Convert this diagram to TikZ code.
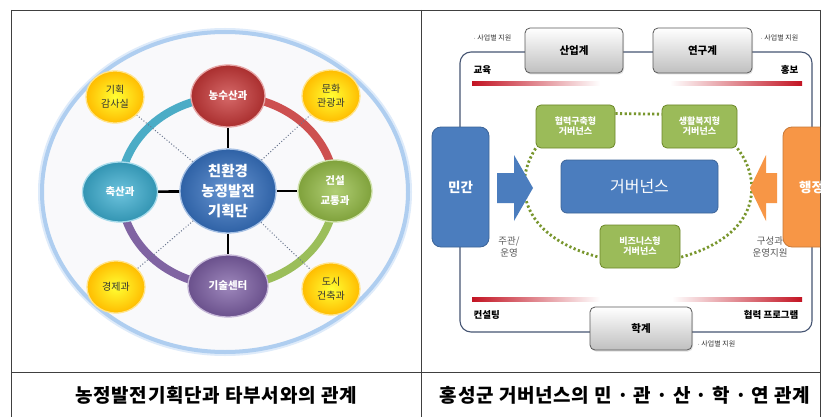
\documentclass[tikz,border=0pt]{standalone}
\usepackage{fontspec}
\setmainfont{Noto Sans CJK KR}
\usetikzlibrary{shapes.geometric,shadows}
\pgfdeclarelayer{back}\pgfdeclarelayer{bg}
\pgfsetlayers{back,bg,main}
\definecolor{cRed}{RGB}{200,55,55}
\definecolor{cCyan}{RGB}{60,175,210}
\definecolor{cGreen}{RGB}{150,190,70}
\definecolor{cPurple}{RGB}{125,95,165}
\definecolor{cBlue}{RGB}{55,115,195}
\definecolor{cYellow}{RGB}{255,195,0}
\definecolor{ringCyan}{RGB}{75,172,198}
\definecolor{ringRed}{RGB}{205,80,80}
\definecolor{ringGreen}{RGB}{155,190,90}
\definecolor{ringPurple}{RGB}{128,100,162}
\definecolor{govBlue}{RGB}{75,125,190}
\definecolor{boxGreen}{RGB}{155,187,89}
\definecolor{dotGreen}{RGB}{120,150,45}
\definecolor{orng}{RGB}{247,150,70}
\definecolor{frameC}{RGB}{70,85,115}
\definecolor{darkRed}{RGB}{195,20,35}
\definecolor{haloOut}{RGB}{222,235,250}
\definecolor{haloIn}{RGB}{175,206,240}
\definecolor{bgFill}{RGB}{249,249,251}
\tikzset{
  orb/.style={ellipse, draw=#1!45!white, line width=1.3pt, inner color=#1!75!white, outer color=#1!85!black,
    text=white, font=\bfseries\fontsize{10.5}{20}\selectfont, align=center, inner sep=0pt},
  yorb/.style={ellipse, draw=cYellow!45!white, line width=1.3pt, inner color=yellow!80!white, outer color=cYellow!90!orange,
    text=black!80, font=\fontsize{10}{14}\selectfont, align=center, inner sep=0pt, minimum width=58, minimum height=52},
  ringarc/.style={line width=8pt, draw=#1},
  blackline/.style={line width=2.6pt, draw=black},
  dotline/.style={line width=1pt, draw=frameC!80, dotted},
  graybox/.style={rectangle, rounded corners=5pt, draw=black!65, line width=0.8pt, top color=white, bottom color=black!25,
    font=\bfseries\fontsize{10.5}{12}\selectfont, text=black, drop shadow={opacity=0.25, shadow xshift=1pt, shadow yshift=-1.5pt}},
  gbox/.style={rectangle, rounded corners=5pt, draw=dotGreen!90!black, line width=0.8pt, fill=boxGreen,
    text=white, font=\bfseries\fontsize{9}{12}\selectfont, align=center},
  sidebox/.style={rectangle, rounded corners=9pt, draw=#1!80!black, line width=0.8pt, fill=#1,
    text=white, font=\bfseries\fontsize{13.5}{15}\selectfont, minimum width=57, minimum height=120},
  gdot/.style={line width=2.8pt, draw=dotGreen, dash pattern=on 2.2pt off 2.4pt},
  notetxt/.style={font=\fontsize{7}{8}\selectfont, text=black!80},
  lbltxt/.style={font=\bfseries\fontsize{9.5}{11}\selectfont, text=black},
  subtxt/.style={font=\fontsize{9.5}{12.5}\selectfont, text=black!65, align=center},
  captxt/.style={font=\bfseries\fontsize{19}{22}\selectfont\addfontfeature{LetterSpace=4}, text=black}
}
\begin{document}
\begin{tikzpicture}[x=1pt,y=-1pt]
\useasboundingbox (0,0) rectangle (821,417);
\begin{pgfonlayer}{back}
\fill[white] (0,0) rectangle (821,417);
\end{pgfonlayer}
% table lines
\draw[black!75, line width=0.9pt] (11,10) -- (820,10);
\draw[black!75, line width=0.9pt] (11,10) -- (11,417);
\draw[black!75, line width=0.9pt] (820,10) -- (820,417);
\draw[black!75, line width=0.9pt] (421,10) -- (421,417);
\draw[black!75, line width=0.9pt] (11,372) -- (820,372);

% ===== left panel =====
\begin{pgfonlayer}{back}
\draw[line width=8pt, draw=haloOut] (225,192) ellipse [x radius=183, y radius=160];
\draw[line width=4pt, draw=haloIn, fill=bgFill] (225,192) ellipse [x radius=183, y radius=160];
\end{pgfonlayer}

\node[orb=cBlue, minimum width=96, minimum height=84, font=\bfseries\fontsize{14.5}{20}\selectfont] (center) at (228,191) {친환경\\농정발전\\기획단};
\node[orb=cRed, minimum width=74, minimum height=62] (nong) at (228,96) {농수산과};
\node[orb=cCyan, minimum width=75, minimum height=60] (chuk) at (120,192) {축산과};
\node[orb=cGreen, minimum width=74, minimum height=62] (geon) at (335,191) {건설\\교통과};
\node[orb=cPurple, minimum width=80, minimum height=62] (gisul) at (228,286) {기술센터};
\node[yorb] (gihoek) at (115,97) {기획\\감사실};
\node[yorb] (munhwa) at (331,96) {문화\\관광과};
\node[yorb] (gyeong) at (116,287) {경제과};
\node[yorb] (dosi) at (331,289) {도시\\건축과};

\begin{pgfonlayer}{bg}
\draw[ringarc=ringCyan] (chuk.center) arc[start angle=180, end angle=270, x radius=107, y radius=95];
\draw[ringarc=ringRed] (nong.center) arc[start angle=270, end angle=360, x radius=107, y radius=95];
\draw[ringarc=ringGreen] (geon.center) arc[start angle=0, end angle=90, x radius=107, y radius=95];
\draw[ringarc=ringPurple] (gisul.center) arc[start angle=90, end angle=180, x radius=107, y radius=95];
\draw[blackline] (center) -- (nong);
\draw[blackline] (center) -- (chuk);
\draw[blackline] (center) -- (geon);
\draw[blackline] (center) -- (gisul);
\draw[dotline] (center) -- (gihoek);
\draw[dotline] (center) -- (munhwa);
\draw[dotline] (center) -- (gyeong);
\draw[dotline] (center) -- (dosi);
\end{pgfonlayer}

\node[captxt] (capL) at (216,395) {농정발전기획단과 타부서와의 관계};

% ===== right panel =====
\begin{pgfonlayer}{back}
\draw[frameC, line width=1.1pt, rounded corners=11pt] (460,52) rectangle (812,332);
\end{pgfonlayer}
\node[graybox, minimum width=98, minimum height=45] (sanup) at (574,50.5) {산업계};
\node[graybox, minimum width=99, minimum height=45] (yeongu) at (702.5,50.5) {연구계};
\node[graybox, minimum width=102, minimum height=43] (hakgye) at (641,328.5) {학계};

\node[notetxt, anchor=west] (n1) at (470,38) {$\cdot$ 사업별 지원};
\node[notetxt, anchor=west] (n2) at (757,38) {$\cdot$ 사업별 지원};
\node[notetxt, anchor=west] (n3) at (694,344) {$\cdot$ 사업별 지원};

\node[lbltxt, anchor=west] (gyoyuk) at (470,70) {교육};
\node[lbltxt, anchor=east] (hongbo) at (802,70) {홍보};
\node[lbltxt, anchor=west] (consult) at (470,315) {컨설팅};
\node[lbltxt, anchor=east] (program) at (802,315) {협력 프로그램};

\shade[left color=darkRed, right color=white] (472,82) rectangle (600,86);
\shade[left color=white, right color=darkRed] (670,82) rectangle (802,86);
\shade[left color=darkRed, right color=white] (472,297) rectangle (600,301);
\shade[left color=white, right color=darkRed] (672,297) rectangle (802,301);

\begin{scope}
\clip (421,10) rectangle (820,372);
\node[sidebox=govBlue] (mingan) at (460.5,187) {민간};
\node[sidebox=orng] (haengjeong) at (811.5,187) {행정};
\end{scope}

% arrows
\fill[govBlue] (497,173) -- (514,173) -- (514,155) -- (533,188) -- (514,221) -- (514,203) -- (497,203) -- cycle;
\fill[orng] (777,173) -- (766,173) -- (766,155) -- (750,188) -- (766,221) -- (766,203) -- (777,203) -- cycle;

\node[rectangle, rounded corners=6pt, draw=govBlue!80!black, line width=0.8pt, fill=govBlue, text=white,
  font=\fontsize{16}{18}\selectfont, minimum width=157, minimum height=53] (gov) at (639.5,186.5) {거버넌스};
\node[gbox, minimum width=79, minimum height=43] (hyup) at (575.5,126.5) {협력구축형\\[-2pt]거버넌스};
\node[gbox, minimum width=75, minimum height=43] (saeng) at (699.5,126.5) {생활복지형\\[-2pt]거버넌스};
\node[gbox, minimum width=80, minimum height=43] (biz) at (640,246.5) {비즈니스형\\[-2pt]거버넌스};

\begin{pgfonlayer}{bg}
\draw[gdot] (hyup.18) -- (saeng.162);
\draw[gdot] (hyup.south west) .. controls (515,180) and (515,235) .. (biz.195);
\draw[gdot] (saeng.south east) .. controls (762,180) and (762,235) .. (biz.345);
\end{pgfonlayer}

\node[subtxt] (jugwan) at (509,247) {주관/\\운영};
\node[subtxt] (guseong) at (770,247) {구성과\\운영지원};

\node[captxt] (capR) at (625,395) {홍성군 거버넌스의 민 · 관 · 산 · 학 · 연 관계};
\end{tikzpicture}
\end{document}
